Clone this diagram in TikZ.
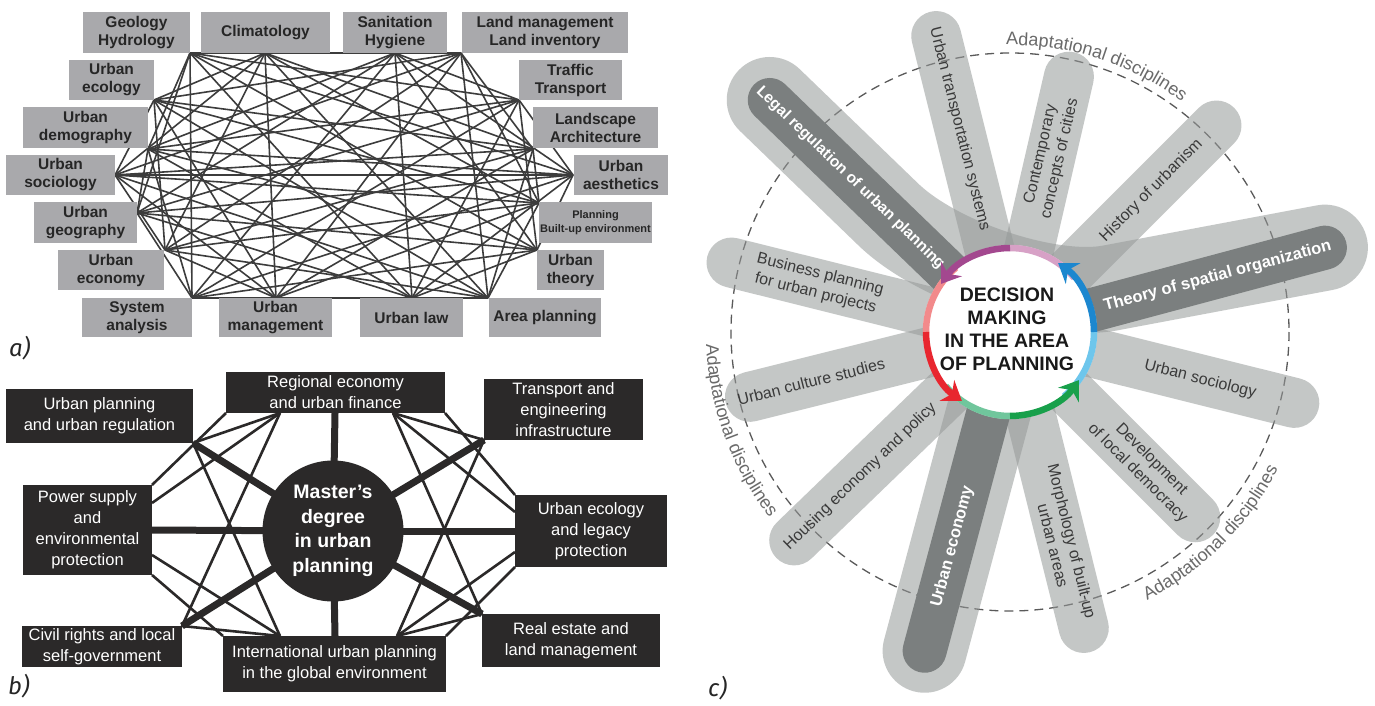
\documentclass[tikz,border=0pt]{standalone}
\usepackage{fontspec}
\setmainfont{Liberation Sans}
\newfontfamily\labfont{Fira Sans}
\usetikzlibrary{arrows.meta,calc,decorations.text}

\definecolor{boxa}{HTML}{A9A9AC}
\definecolor{texta}{HTML}{262626}
\definecolor{linea}{HTML}{3C3C3C}
\definecolor{boxb}{HTML}{2B2929}
\definecolor{barbase}{HTML}{959998}
\definecolor{bardark}{HTML}{7B7F7F}
\definecolor{textc}{HTML}{3A3A3A}
\definecolor{dashc}{HTML}{5A5A5A}
\definecolor{adaptc}{HTML}{6A6A6A}
\definecolor{ringpurple}{HTML}{A3488F}
\definecolor{ringpink}{HTML}{D7A1C6}
\definecolor{ringblue}{HTML}{1C87CF}
\definecolor{ringlblue}{HTML}{6EC6EC}
\definecolor{ringgreen}{HTML}{18A04B}
\definecolor{ringlgreen}{HTML}{70C69C}
\definecolor{ringred}{HTML}{E8262F}
\definecolor{ringlred}{HTML}{F28A8B}

\begin{document}
\begin{tikzpicture}[x=1pt,y=-1pt,
  abox/.style={fill=boxa, text=texta, font=\bfseries\fontsize{15.5}{18}\selectfont, align=center, inner sep=0pt},
  aline/.style={draw=linea, line width=1.6pt},
  bbox/.style={fill=boxb, text=white, font=\fontsize{16.5}{21}\selectfont, align=center, inner sep=0pt},
  bthin/.style={draw=boxb, line width=2.6pt},
  bthick/.style={draw=boxb, line width=7pt},
  lbar/.style={draw=barbase, draw opacity=0.55, line width=50pt, line cap=round},
  halo/.style={draw=barbase, draw opacity=0.55, line width=86pt, line cap=round, line join=round},
  dbar/.style={draw=bardark, line width=44pt, line cap=round},
  ctext/.style={text=textc, font=\fontsize{16}{19.5}\selectfont, align=center, inner sep=0pt},
  dtext/.style={text=white, font=\bfseries\fontsize{16.5}{18}\selectfont, inner sep=0pt},
  ringseg/.style={line width=6.5pt},
  ringarrow/.style={-{Stealth[length=18pt,width=25pt,inset=6pt]}},
  adapt/.style={decorate, decoration={text along path, text align=center, text color=adaptc,
      text={|\fontsize{18}{18}\selectfont|Adaptational disciplines}}},
  plabel/.style={font=\labfont\itshape\fontsize{24}{24}\selectfont, text=black!85, inner sep=0pt}
]
\useasboundingbox (0,0) rectangle (1375,706);
\fill[white] (0,0) rectangle (1375,706);

% ---------------- a) network of disciplines ----------------
\coordinate (h1) at (190,53);
\coordinate (h2) at (265,53);
\coordinate (h3) at (395,53);
\coordinate (h4) at (461,53);
\coordinate (h5) at (519,100);
\coordinate (h6) at (533,149);
\coordinate (h7) at (573,175);
\coordinate (h8) at (539,203);
\coordinate (h9) at (537,250);
\coordinate (h10) at (488,298);
\coordinate (h11) at (412,298);
\coordinate (h12) at (276,298);
\coordinate (h13) at (192,298);
\coordinate (h14) at (165,250);
\coordinate (h15) at (137,213);
\coordinate (h16) at (115,175);
\coordinate (h17) at (148,149);
\coordinate (h18) at (154,100);

\foreach \i in {1,...,18}{
  \foreach \j in {1,...,18}{
    \pgfmathtruncatemacro{\p}{mod(\i+\j,2)}
    \ifnum\j>\i \ifnum\p=0 \draw[aline] (h\i) -- (h\j); \fi\fi
  }
}
\draw[aline] (h1) -- (h4);
\draw[aline] (h13) -- (h10);
\draw[aline] (h16) -- (h7);

\node[abox, minimum width=107pt, minimum height=41pt] (geo) at (136.5,32.5) {Geology\\Hydrology};
\node[abox, minimum width=129pt, minimum height=41pt] (clim) at (265.5,32.5) {Climatology};
\node[abox, minimum width=104pt, minimum height=41pt] (san) at (395,32.5) {Sanitation\\Hygiene};
\node[abox, minimum width=166pt, minimum height=41pt] (landm) at (545,32.5) {Land management\\Land inventory};
\node[abox, minimum width=85pt, minimum height=40pt] (ueco) at (111.5,80) {Urban\\ecology};
\node[abox, minimum width=125pt, minimum height=41pt] (udemo) at (85.5,127.5) {Urban\\demography};
\node[abox, minimum width=109pt, minimum height=40pt] (usoc) at (60.5,175) {Urban\\sociology};
\node[abox, minimum width=103pt, minimum height=41pt] (ugeo) at (85.5,222.5) {Urban\\geography};
\node[abox, minimum width=106pt, minimum height=40pt] (uecon) at (111,270) {Urban\\economy};
\node[abox, minimum width=110pt, minimum height=39pt] (sysa) at (137,317.5) {System\\analysis};
\node[abox, minimum width=113pt, minimum height=39pt] (umgmt) at (275.5,317.5) {Urban\\management};
\node[abox, minimum width=103pt, minimum height=39pt] (ulaw) at (411.5,317.5) {Urban law};
\node[abox, minimum width=112pt, minimum height=39pt] (areap) at (545,317.5) {Area planning};
\node[abox, minimum width=67pt, minimum height=40pt] (utheo) at (570.5,270) {Urban\\theory};
\node[abox, minimum width=113pt, minimum height=41pt, font=\bfseries\fontsize{11}{14}\selectfont] (plan) at (595.5,222.5) {Planning\\Built-up environment};
\node[abox, minimum width=94pt, minimum height=40pt] (uaest) at (621,175) {Urban\\aesthetics};
\node[abox, minimum width=125pt, minimum height=41pt] (lands) at (595.5,127.5) {Landscape\\Architecture};
\node[abox, minimum width=103pt, minimum height=40pt] (traf) at (570.5,80) {Traffic\\Transport};

\node[plabel, anchor=base west] (la) at (9,356) {a)};

% ---------------- b) master's degree ----------------
\coordinate (bc) at (333,531);
\coordinate (upD) at (193,443);
\coordinate (regT) at (335,413);
\coordinate (regCL) at (226,413);
\coordinate (regML) at (280,413);
\coordinate (regMR) at (393,413);
\coordinate (regCR) at (445,413);
\coordinate (trD) at (484,440);
\coordinate (ecT) at (515,531);
\coordinate (ecCT) at (515,495);
\coordinate (ecMT) at (515,512);
\coordinate (ecMB) at (515,552);
\coordinate (ecCB) at (515,567);
\coordinate (reD) at (482,614);
\coordinate (inT) at (335,636);
\coordinate (inCR) at (446,636);
\coordinate (inMR) at (397,636);
\coordinate (inML) at (280,636);
\coordinate (inCL) at (223,636);
\coordinate (cvD) at (182,626);
\coordinate (pwT) at (152,530);
\coordinate (pwCB) at (152,575);
\coordinate (pwMB) at (152,555);
\coordinate (pwMT) at (152,503);
\coordinate (pwCT) at (152,485);

\draw[bthin] (regCL) -- (pwCT);
\draw[bthin] (regML) -- (pwMT);
\draw[bthin] (regML) -- (cvD);
\draw[bthin] (regML) -- (upD);
\draw[bthin] (inML) -- (upD);
\draw[bthin] (inML) -- (pwMB);
\draw[bthin] (inML) -- (cvD);
\draw[bthin] (inCL) -- (pwCB);
\draw[bthin] (regCR) -- (ecCT);
\draw[bthin] (regMR) -- (ecMT);
\draw[bthin] (regMR) -- (reD);
\draw[bthin] (regMR) -- (trD);
\draw[bthin] (inMR) -- (trD);
\draw[bthin] (inMR) -- (ecMB);
\draw[bthin] (inMR) -- (reD);
\draw[bthin] (inCR) -- (ecCB);

\foreach \t in {upD,regT,trD,ecT,reD,inT,cvD,pwT}
  \draw[bthick] (bc) -- (\t);

\node[circle, fill=boxb, minimum size=141pt, inner sep=0pt, text=white, align=center,
      font=\bfseries\fontsize{19.5}{24.5}\selectfont] (mst) at (bc) {Master’s\\degree\\in urban\\planning};

\node[bbox, minimum width=187pt, minimum height=54pt] (bup) at (99.5,416) {Urban planning\\and urban regulation};
\node[bbox, minimum width=219pt, minimum height=41pt] (breg) at (335.5,392.5) {Regional economy\\and urban finance};
\node[bbox, minimum width=159pt, minimum height=61pt] (btr) at (563.5,409.5) {Transport and\\engineering\\infrastructure};
\node[bbox, minimum width=129pt, minimum height=90pt] (bpw) at (87.5,530) {Power supply\\and\\environmental\\protection};
\node[bbox, minimum width=152pt, minimum height=72pt] (bec) at (591,531) {Urban ecology\\and legacy\\protection};
\node[bbox, minimum width=160pt, minimum height=41pt] (bcv) at (102,646.5) {Civil rights and local\\self-government};
\node[bbox, minimum width=223pt, minimum height=56pt] (bin) at (334.5,664) {International urban planning\\in the global environment};
\node[bbox, minimum width=178pt, minimum height=53pt] (bre) at (571,640.5) {Real estate and\\land management};

\node[plabel, anchor=base west] (lb) at (8,694) {b)};

% ---------------- c) decision making wheel ----------------
\coordinate (cc) at (1010,332);
\draw[dashc, line width=1.3pt, dash pattern=on 9pt off 6pt] (cc) circle[radius=279];

\coordinate (eTrans) at ($(cc)+(-104:305)$);
\coordinate (eCont) at ($(cc)+(-77:262)$);
\coordinate (eHist) at ($(cc)+(-45:292)$);
\coordinate (eSoc) at ($(cc)+(14:293)$);
\coordinate (eDev) at ($(cc)+(45:262)$);
\coordinate (eMorph) at ($(cc)+(76:305)$);
\coordinate (eHous) at ($(cc)+(136:300)$);
\coordinate (eCult) at ($(cc)+(166:268)$);
\coordinate (eBus) at ($(cc)+(-166:287)$);
\coordinate (eLegal) at ($(cc)+(-136:334)$);
\coordinate (eTheory) at ($(cc)+(-15:326)$);
\coordinate (eEcon) at ($(cc)+(105:330)$);
\coordinate (kLegal) at ($(cc)+(-136:170)$);
\coordinate (kTheory) at (1110,288);

\foreach \e in {eTrans,eCont,eHist,eSoc,eDev,eMorph,eHous,eCult,eBus}
  \draw[lbar] (cc) -- (\e);

% halos round the three core subjects
\draw[halo] (eLegal) -- (kLegal) .. controls (937,262) and (1050,299) .. (kTheory) -- (eTheory);
\draw[halo, line width=84pt] (cc) -- (eEcon);

\draw[dbar] ($(cc)+(-136:60)$) -- (eLegal);
\draw[dbar] ($(cc)+(-15:60)$) -- (eTheory);
\draw[dbar] ($(cc)+(105:60)$) -- (eEcon);

% subject labels
\node[ctext, rotate=-76] (tTrans) at ($(cc)+(-104:209)$) {Urban transportation systems};
\node[ctext, rotate=77] (tCont) at ($(cc)+(-77:180)$) {Contemporary\\concepts of cities};
\node[ctext, rotate=45] (tHist) at ($(cc)+(-45:200)$) {History of urbanism};
\node[ctext, rotate=-14] (tSoc) at ($(cc)+(14:196)$) {Urban sociology};
\node[ctext, rotate=-45] (tDev) at ($(cc)+(45:190)$) {Development\\of local democracy};
\node[ctext, rotate=-76] (tMorph) at ($(cc)+(76:218)$) {Morphology of built-up\\urban areas};
\node[ctext, rotate=44] (tHous) at ($(cc)+(136:208)$) {Housing economy and policy};
\node[ctext, rotate=14] (tCult) at ($(cc)+(166:205)$) {Urban culture studies};
\node[ctext, rotate=-14] (tBus) at ($(cc)+(-166:198)$) {Business planning\\for urban projects};
\node[dtext, rotate=-44, font=\bfseries\fontsize{15.5}{18}\selectfont] (tLegal) at ($(cc)+(-136:222)$) {Legal regulation of urban planning};
\node[dtext, rotate=15] (tTheory) at ($(cc)+(-15:215)$) {Theory of spatial organization};
\node[dtext, rotate=75] (tEcon) at ($(cc)+(105:222)$) {Urban economy};

% ring labels
\path[adapt] ($(cc)+(-104:287)$) arc[start angle=-104, end angle=-40, radius=287];
\path[adapt] ($(cc)+(-166:304)$) arc[start angle=-166, end angle=-234, radius=304];
\path[adapt] ($(cc)+(79:301)$) arc[start angle=79, end angle=11, radius=301];

% centre disc and coloured cycle
\fill[white] (cc) circle[radius=87];
\draw[ringseg, ringpink] ($(cc)+(-40:84)$) arc[start angle=-40, end angle=-90, radius=84];
\draw[ringseg, ringlblue] ($(cc)+(50:84)$) arc[start angle=50, end angle=0, radius=84];
\draw[ringseg, ringlgreen] ($(cc)+(-220:84)$) arc[start angle=-220, end angle=-270, radius=84];
\draw[ringseg, ringlred] ($(cc)+(-130:84)$) arc[start angle=-130, end angle=-180, radius=84];
\draw[ringseg, ringarrow, ringpurple] ($(cc)+(-90:84)$) arc[start angle=-90, end angle=-145, radius=84];
\draw[ringseg, ringarrow, ringblue] ($(cc)+(0:84)$) arc[start angle=0, end angle=-55, radius=84];
\draw[ringseg, ringarrow, ringgreen] ($(cc)+(90:84)$) arc[start angle=90, end angle=35, radius=84];
\draw[ringseg, ringarrow, ringred] ($(cc)+(180:84)$) arc[start angle=180, end angle=125, radius=84];

\node[font=\bfseries\fontsize{19.5}{23}\selectfont, text=black!90, align=center, inner sep=0pt] (dm) at (1007,329)
  {DECISION\\MAKING\\IN THE AREA\\OF PLANNING};

\node[plabel, anchor=base west] (lc) at (708,696) {c)};
\end{tikzpicture}
\end{document}
